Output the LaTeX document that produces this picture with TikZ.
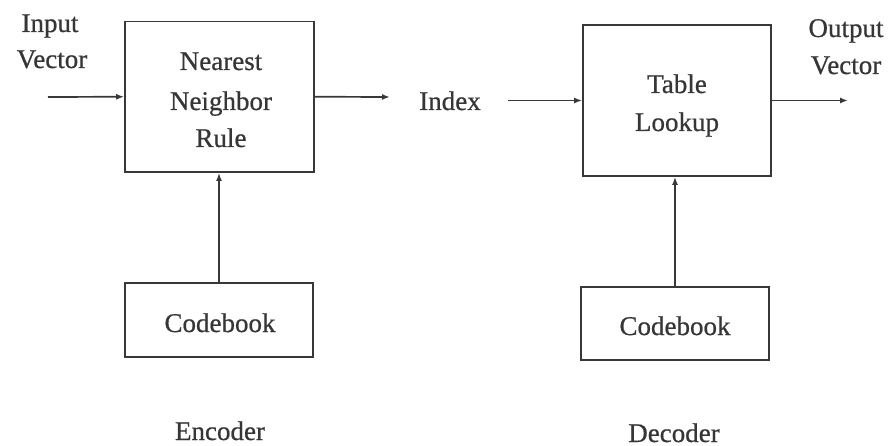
\documentclass[tikz,border=0pt]{standalone}
\usepackage{fontspec}
\setmainfont{Liberation Serif}[FakeBold=0.7]
\usetikzlibrary{arrows.meta}
\definecolor{ink}{HTML}{383838}
\definecolor{txtc}{HTML}{363636}
\tikzset{
  blk/.style={draw=ink, line width=1.8pt, inner sep=0pt},
  lbl/.style={text=txtc, font=\fontsize{27}{32}\selectfont, anchor=base, inner sep=0pt},
  conn/.style={draw=ink, line width=1.7pt, -{Latex[length=8pt,width=6pt]}}
}
\begin{document}
\begin{tikzpicture}[x=1pt,y=-1pt]
\useasboundingbox (0,0) rectangle (894,446);
% boxes
\node[blk, minimum width=189pt, minimum height=150.5pt] (enc) at (219.5,96.75) {};
\node[blk, minimum width=188pt, minimum height=74pt] (cbE) at (219,320) {};
\node[blk, minimum width=188pt, minimum height=151pt] (dec) at (677,100.5) {};
\node[blk, minimum width=188pt, minimum height=73pt] (cbD) at (675,323.5) {};
% texts
\node[lbl] (in1) at (50,32) {Input};
\node[lbl] (in2) at (52,68) {Vector};
\node[lbl] (n1) at (221,70) {Nearest};
\node[lbl] (n2) at (221,110) {Neighbor};
\node[lbl] (n3) at (221,147) {Rule};
\node[lbl] (idx) at (450,110) {Index};
\node[lbl] (t1) at (677,93) {Table};
\node[lbl] (t2) at (677,131) {Lookup};
\node[lbl] (o1) at (846,37) {Output};
\node[lbl] (o2) at (846,74) {Vector};
\node[lbl] (cbt1) at (220,332) {Codebook};
\node[lbl] (cbt2) at (675,335) {Codebook};
\node[lbl] (encl) at (220,440) {Encoder};
\node[lbl] (decl) at (674,442) {Decoder};
% free ends
\coordinate (inS) at (48,97);
\coordinate (encO) at (390,97);
\coordinate (idxS) at (508,100.5);
\coordinate (outE) at (848,100.5);
% connectors
\draw[conn] (inS) -- (enc.west);
\draw[conn] (enc.east) -- (encO);
\draw[conn] (idxS) -- (dec.west);
\draw[conn] (dec.east) -- (outE);
\draw[conn] (cbE.north) -- (cbE.north |- enc.south);
\draw[conn] (cbD.north) -- (cbD.north |- dec.south);
\end{tikzpicture}
\end{document}
